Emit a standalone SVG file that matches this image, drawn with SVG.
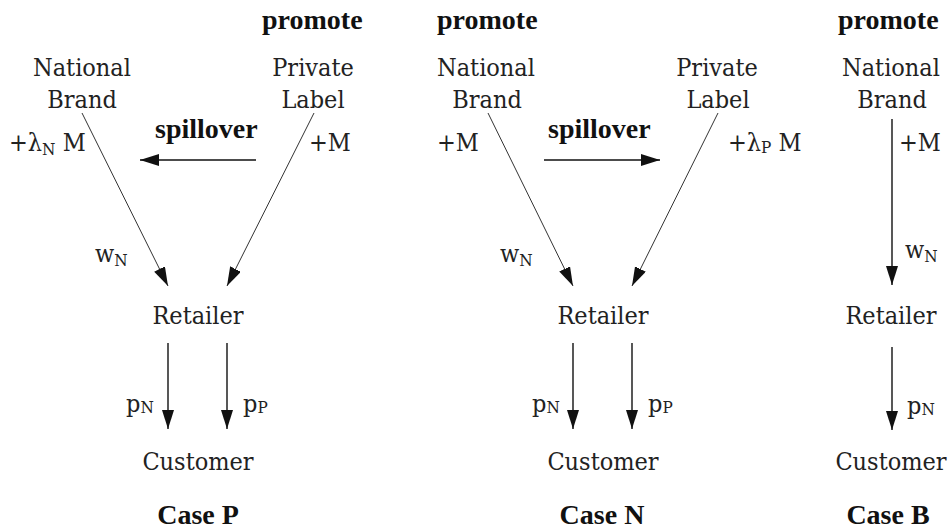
<svg xmlns="http://www.w3.org/2000/svg" width="949" height="531" viewBox="0 0 949 531">
<defs>
<marker id="ah" markerUnits="userSpaceOnUse" markerWidth="20" markerHeight="13" refX="19" refY="6" orient="auto"><path d="M0,0 L19,6 L0,12 z" fill="#111"/></marker>
<style>
text{font-family:"DejaVu Serif Condensed","DejaVu Serif",serif;font-size:25px;fill:#222}
.b{font-family:"Liberation Serif",serif;font-weight:bold;font-size:28px;fill:#111}
.m{text-anchor:middle}
.s{font-size:17px}
.thin{stroke:#333;stroke-width:1;fill:none}
.v{stroke:#111;stroke-width:1.4;fill:none}
.sp{stroke:#111;stroke-width:1.6;fill:none}
</style>
</defs>
<rect width="949" height="531" fill="#fff"/>
<g id="connectors">
<line class="thin" x1="82" y1="113" x2="168" y2="286" marker-end="url(#ah)"/>
<line class="thin" x1="314" y1="113" x2="227" y2="286" marker-end="url(#ah)"/>
<line class="sp" x1="256" y1="160" x2="140" y2="160" marker-end="url(#ah)"/>
<line class="v" x1="168" y1="343" x2="168" y2="429" marker-end="url(#ah)"/>
<line class="v" x1="227" y1="343" x2="227" y2="429" marker-end="url(#ah)"/>
<line class="thin" x1="488" y1="113" x2="573" y2="286" marker-end="url(#ah)"/>
<line class="thin" x1="718" y1="113" x2="632" y2="286" marker-end="url(#ah)"/>
<line class="sp" x1="544" y1="160" x2="660" y2="160" marker-end="url(#ah)"/>
<line class="v" x1="573" y1="343" x2="573" y2="429" marker-end="url(#ah)"/>
<line class="v" x1="632" y1="343" x2="632" y2="429" marker-end="url(#ah)"/>
<line class="v" x1="892" y1="119" x2="892" y2="285" marker-end="url(#ah)"/>
<line class="v" x1="892" y1="347" x2="892" y2="430" marker-end="url(#ah)"/>
</g>
<g id="labels">
<text class="b" x="262" y="29">promote</text>
<text x="9" y="151">+λ<tspan class="s" dy="4">N</tspan><tspan dy="-4"> M</tspan></text>
<text class="b" x="155" y="138">spillover</text>
<text x="309" y="151">+M</text>
<text x="95" y="262">w<tspan class="s" dy="4">N</tspan></text>
<text x="126" y="412">p<tspan class="s" dy="1">N</tspan></text>
<text x="243" y="412">p<tspan class="s" dy="1">P</tspan></text>
<text class="b" x="437" y="29">promote</text>
<text x="437" y="151">+M</text>
<text class="b" x="548" y="138">spillover</text>
<text x="728" y="151">+λ<tspan class="s" dy="2">P</tspan><tspan dy="-2"> M</tspan></text>
<text x="500" y="262">w<tspan class="s" dy="4">N</tspan></text>
<text x="532" y="412">p<tspan class="s" dy="1">N</tspan></text>
<text x="648" y="412">p<tspan class="s" dy="1">P</tspan></text>
<text class="b" x="838" y="29">promote</text>
<text x="899" y="151">+M</text>
<text x="905" y="258">w<tspan class="s" dy="4">N</tspan></text>
<text x="907" y="414">p<tspan class="s" dy="1">N</tspan></text>
</g>
<g id="caseP-national-brand"><text class="m" x="82" y="76">National</text><text class="m" x="82" y="108">Brand</text></g>
<g id="caseP-private-label"><text class="m" x="313" y="76">Private</text><text class="m" x="313" y="108">Label</text></g>
<g id="caseP-retailer"><text class="m" x="198" y="324">Retailer</text></g>
<g id="caseP-customer"><text class="m" x="198" y="470">Customer</text></g>
<g id="caseP-title"><text class="m b" x="198" y="524">Case P</text></g>
<g id="caseN-national-brand"><text class="m" x="486" y="76">National</text><text class="m" x="487" y="108">Brand</text></g>
<g id="caseN-private-label"><text class="m" x="717" y="76">Private</text><text class="m" x="718" y="108">Label</text></g>
<g id="caseN-retailer"><text class="m" x="603" y="324">Retailer</text></g>
<g id="caseN-customer"><text class="m" x="603" y="470">Customer</text></g>
<g id="caseN-title"><text class="m b" x="602" y="524">Case N</text></g>
<g id="caseB-national-brand"><text class="m" x="891" y="76">National</text><text class="m" x="892" y="108">Brand</text></g>
<g id="caseB-retailer"><text class="m" x="891" y="324">Retailer</text></g>
<g id="caseB-customer"><text class="m" x="891" y="470">Customer</text></g>
<g id="caseB-title"><text class="m b" x="888" y="524">Case B</text></g>
</svg>
